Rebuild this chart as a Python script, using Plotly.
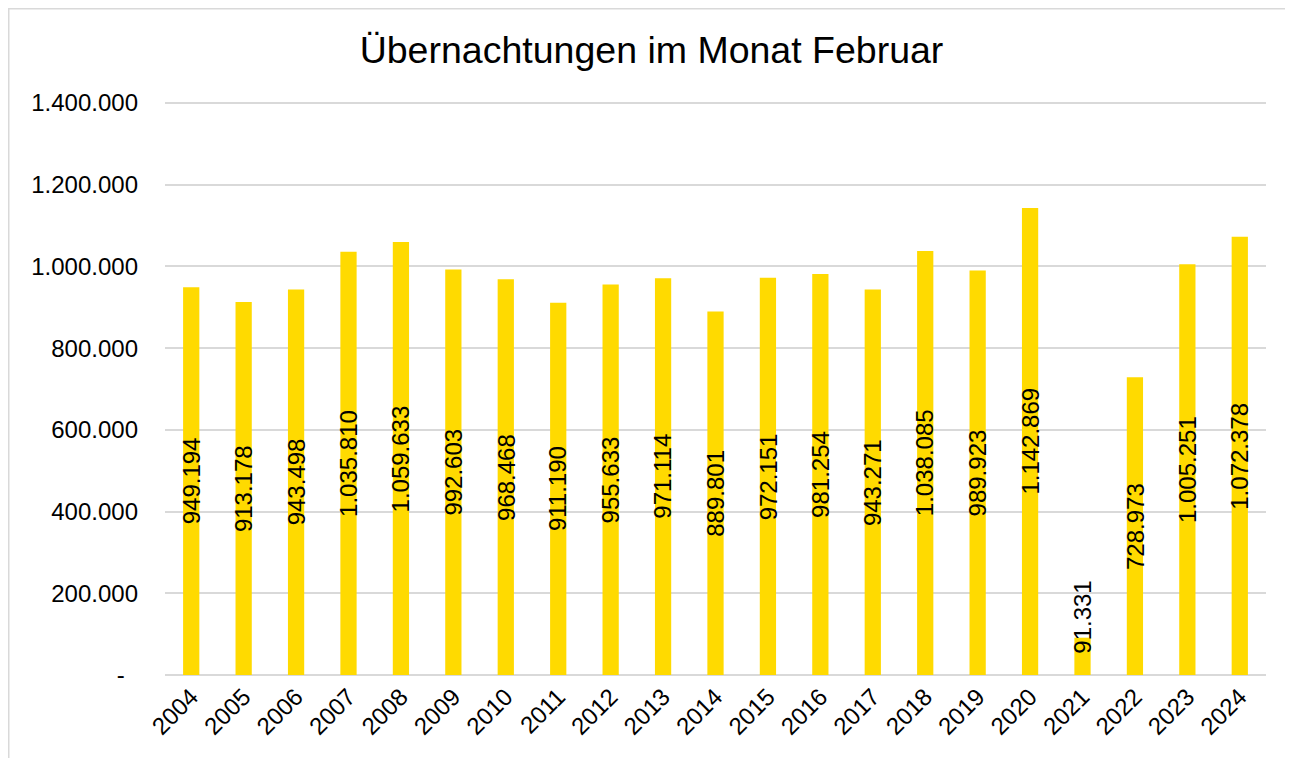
import plotly.graph_objects as go

years = [str(y) for y in range(2004, 2025)]
values = [949194, 913178, 943498, 1035810, 1059633, 992603, 968468, 911190, 955633, 971114,
          889801, 972151, 981254, 943271, 1038085, 989923, 1142869, 91331, 728973, 1005251, 1072378]
tick_vals = [0, 200000, 400000, 600000, 800000, 1000000, 1200000, 1400000]
tick_text = ["-\u00a0\u00a0", "200.000", "400.000", "600.000", "800.000",
             "1.000.000", "1.200.000", "1.400.000"]

def fmt(v):
    return f"{v:,}".replace(",", ".")

# the page places the figure 8px from the top-left corner
W, H = 1285, 750
ML, MR, MT, MB = 157, 27, 94, 83
FONT = "Liberation Sans, Arial, sans-serif"

fig = go.Figure()
fig.add_trace(go.Bar(x=years, y=values, marker=dict(color="#FFDA00", line=dict(width=0)),
                     hoverinfo="x+y"))

annotations = []
for i, v in enumerate(values):
    if v < 200000:
        annotations.append(dict(x=i, y=v, xref="x", yref="y", text=fmt(v), textangle=-90,
                                showarrow=False, yanchor="bottom", yshift=-18,
                                font=dict(family=FONT, size=24, color="black")))
    else:
        annotations.append(dict(x=i, y=v / 2, xref="x", yref="y", text=fmt(v), textangle=-90,
                                showarrow=False, yanchor="middle",
                                font=dict(family=FONT, size=24, color="black")))

pw = W - ML - MR
ph = H - MT - MB
x0 = (0.5 - ML) / pw
x1 = (W + 5 - ML) / pw
y1 = (H - 0.5 - MB) / ph
y0 = (-5 - MB) / ph

fig.update_layout(
    width=W, height=H,
    margin=dict(l=ML, r=MR, t=MT, b=MB, autoexpand=False),
    paper_bgcolor="white", plot_bgcolor="white",
    title=dict(text="Übernachtungen im Monat Februar", x=0.5008, xanchor="center",
               y=1 - 42 / H, yanchor="middle",
               font=dict(family=FONT, size=37.5, color="black")),
    bargap=0.69,
    showlegend=False,
    xaxis=dict(type="category", range=[-0.5, len(years) - 0.5], tickangle=-45,
               showgrid=False, showline=False, ticks="", automargin=False,
               tickfont=dict(family=FONT, size=24, color="black"), ticklabelstandoff=2),
    yaxis=dict(range=[0, 1402500], tickvals=tick_vals, ticktext=tick_text,
               showgrid=True, gridcolor="#D9D9D9", gridwidth=1.5, automargin=False,
               zeroline=True, zerolinecolor="#D9D9D9", zerolinewidth=1.5,
               showline=False, ticks="", ticklabelstandoff=26,
               tickfont=dict(family=FONT, size=24, color="black")),
    annotations=annotations,
    shapes=[dict(type="rect", xref="paper", yref="paper", x0=x0, x1=x1, y0=y0, y1=y1,
                 line=dict(color="#D9D9D9", width=2), fillcolor="rgba(0,0,0,0)", layer="below")],
)

fig.write_html("out.html")
